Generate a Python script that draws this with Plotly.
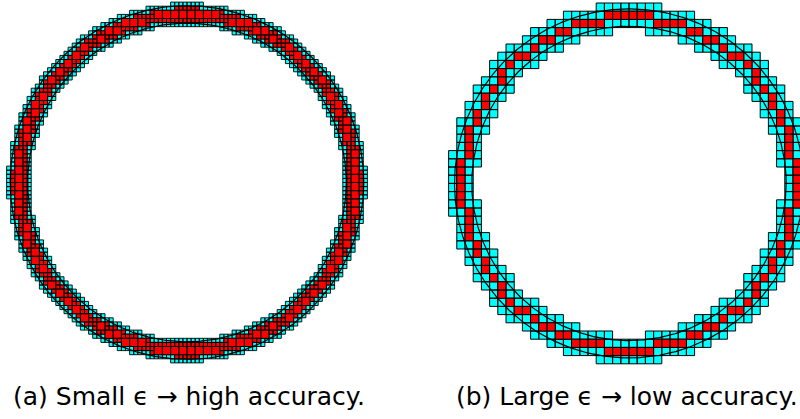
import numpy as np
import plotly.graph_objects as go

# Panel geometry (page pixels, y grows downward)
panel_names = ["a", "b"]
centers_x = [187.0, 629.0]
centers_y = [182.5, 183.4]
inner_radii = [159.3, 157.2]
outer_radii = [176.8, 174.5]
leaf_sizes = [4.1, 8.2]           # epsilon: smallest cell size
tree_depths = [7, 6]              # domain side = leaf * 2**depth
captions = ["(a) Small ϵ → high accuracy.", "(b) Large ϵ → low accuracy."]
caption_x = [189.0, 627.0]
caption_y = 396.0

FILL_IN = "#ff0000"
FILL_EDGE = "#00ffff"


def box_dist(x0, y0, x1, y1, cx, cy):
    dx = max(x0 - cx, 0.0, cx - x1)
    dy = max(y0 - cy, 0.0, cy - y1)
    dmin = np.hypot(dx, dy)
    fx = max(abs(x0 - cx), abs(x1 - cx))
    fy = max(abs(y0 - cy), abs(y1 - cy))
    dmax = np.hypot(fx, fy)
    return dmin, dmax


def subdivide(cx, cy, r_in, r_out, eps, depth):
    half = eps * 2 ** depth / 2.0
    inside, border = [], []
    stack = [(cx - half, cy - half, 2 * half)]
    while stack:
        x0, y0, s = stack.pop()
        x1, y1 = x0 + s, y0 + s
        dmin, dmax = box_dist(x0, y0, x1, y1, cx, cy)
        if dmax < r_in or dmin > r_out:
            continue
        if dmin >= r_in and dmax <= r_out:
            inside.append((x0, y0, s))
        elif s <= eps * 1.0001:
            border.append((x0, y0, s))
        else:
            h = s / 2.0
            stack += [(x0, y0, h), (x0 + h, y0, h), (x0, y0 + h, h), (x0 + h, y0 + h, h)]
    return inside, border


def cell_path(cells):
    xs, ys = [], []
    for x0, y0, s in cells:
        xs += [x0, x0 + s, x0 + s, x0, x0, None]
        ys += [y0, y0, y0 + s, y0 + s, y0, None]
    return xs, ys


fig = go.Figure()
line_w = [0.9, 1.0]
for i in range(2):
    inside, border = subdivide(centers_x[i], centers_y[i], inner_radii[i],
                               outer_radii[i], leaf_sizes[i], tree_depths[i])
    for cells, col in ((border, FILL_EDGE), (inside, FILL_IN)):
        xs, ys = cell_path(cells)
        fig.add_trace(go.Scatter(x=xs, y=ys, mode="lines", fill="toself",
                                 fillcolor=col, line=dict(color="black", width=line_w[i]),
                                 hoverinfo="skip"))
    t = np.linspace(0, 2 * np.pi, 721)
    for r in (inner_radii[i], outer_radii[i]):
        fig.add_trace(go.Scatter(x=centers_x[i] + r * np.cos(t), y=centers_y[i] + r * np.sin(t),
                                 mode="lines", line=dict(color="black", width=1.2),
                                 hoverinfo="skip"))

for i in range(2):
    fig.add_annotation(x=caption_x[i], y=caption_y, text=captions[i], showarrow=False,
                       xanchor="center", yanchor="middle",
                       font=dict(family="DejaVu Sans, sans-serif", size=25, color="black"))

fig.update_layout(width=800, height=419, margin=dict(l=0, r=0, t=0, b=0),
                  paper_bgcolor="white", plot_bgcolor="white", showlegend=False,
                  xaxis=dict(range=[0, 800], visible=False, fixedrange=True),
                  yaxis=dict(range=[419, 0], visible=False, fixedrange=True))

fig.write_html("out.html")
